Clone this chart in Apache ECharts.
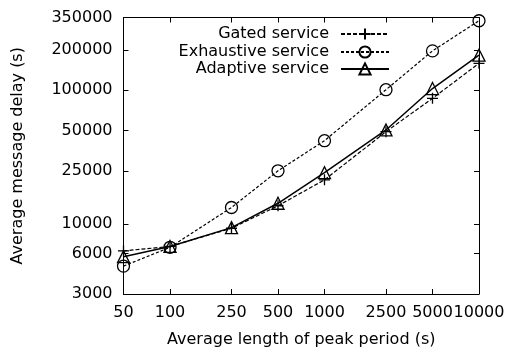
<!DOCTYPE html>
<html>
<head>
<meta charset="utf-8">
<script src="https://cdn.jsdelivr.net/npm/echarts@6/dist/echarts.min.js"></script>
<style>html,body{margin:0;padding:0;background:#fff;}#c{width:509px;height:354px;}</style>
</head>
<body>
<div id="c"></div>
<script>
const xValues = [50, 100, 250, 500, 1000, 2500, 5000, 10000];
const xTicks = [50, 100, 250, 500, 1000, 2500, 5000, 10000];
const yTicks = [3000, 6000, 10000, 25000, 50000, 100000, 200000, 350000];
const gated = [6300, 6800, 9300, 13700, 21400, 49000, 87000, 159000];
const exhaustive = [4850, 6700, 13300, 25000, 42000, 101000, 197000, 331000];
const adaptive = [5700, 6800, 9400, 14300, 24200, 50500, 103000, 183000];
const names = ['Gated service', 'Exhaustive service', 'Adaptive service'];

const FONT = 'DejaVu Sans';
const FS = 16;
const pair = arr => xValues.map((x, i) => [x, arr[i]]);
const plusPath = 'path://M0,-10L0,10M-10,0L10,0';
const triPath = 'path://M0,-10L10,7L-10,7Z';

function xAxisCfg(pos, show) {
  return {
    type: 'log', position: pos, min: 50, max: 10000, logBase: 10,
    axisLine: {show: true, onZero: false, lineStyle: {color: '#000', width: 1}},
    axisTick: {show: true, inside: true, length: 5, customValues: xTicks, lineStyle: {color: '#000'}},
    minorTick: {show: false},
    splitLine: {show: false},
    axisLabel: {show: show, customValues: xTicks, margin: 11, color: '#000', fontFamily: FONT, fontSize: FS, hideOverlap: false, formatter: v => String(v)},
    name: show ? 'Average length of peak period (s)' : '',
    nameLocation: 'middle', nameGap: 38,
    nameTextStyle: {color: '#000', fontFamily: FONT, fontSize: FS}
  };
}
function yAxisCfg(pos, show) {
  return {
    type: 'log', position: pos, min: 3000, max: 350000, logBase: 10,
    axisLine: {show: true, onZero: false, lineStyle: {color: '#000', width: 1}},
    axisTick: {show: true, inside: true, length: 5, customValues: yTicks, lineStyle: {color: '#000'}},
    minorTick: {show: false},
    splitLine: {show: false},
    axisLabel: {show: show, customValues: yTicks, margin: 11, color: '#000', fontFamily: FONT, fontSize: FS, formatter: v => String(v)},
    name: show ? 'Average message delay (s)' : '',
    nameLocation: 'middle', nameGap: 98, nameRotate: 90,
    nameTextStyle: {color: '#000', fontFamily: FONT, fontSize: FS}
  };
}
function legendCfg(name, top) {
  return {
    data: [name], right: 114, top: top, orient: 'vertical', align: 'right',
    itemWidth: 48, itemHeight: 14, padding: 5,
    textStyle: {color: '#000', fontFamily: FONT, fontSize: FS, padding: [0, 7, 0, 0]},
    inactiveColor: '#000'
  };
}
const common = {type: 'line', xAxisIndex: 0, yAxisIndex: 0, symbolSize: 11, animation: false, z: 3};
const chart = echarts.init(document.getElementById('c'), null, {renderer: 'canvas'});
chart.setOption({
  backgroundColor: '#fff',
  animation: false,
  grid: {left: 123.5, right: 30, top: 17.5, bottom: 60, containLabel: false},
  xAxis: [xAxisCfg('bottom', true), xAxisCfg('top', false)],
  yAxis: [yAxisCfg('left', true), yAxisCfg('right', false)],
  legend: [legendCfg(names[0], 21), legendCfg(names[1], 39), legendCfg(names[2], 56)],
  series: [
    Object.assign({}, common, {
      name: names[0], data: pair(gated), symbol: plusPath, symbolSize: 11,
      lineStyle: {color: '#000', width: 1.2, type: [4, 2]},
      itemStyle: {color: '#000', borderColor: '#000', borderWidth: 1.3}
    }),
    Object.assign({}, common, {
      name: names[1], data: pair(exhaustive), symbol: 'circle', symbolSize: 12,
      lineStyle: {color: '#000', width: 1.2, type: [3, 2]},
      itemStyle: {color: 'rgba(0,0,0,0)', borderColor: '#000', borderWidth: 1.3}
    }),
    Object.assign({}, common, {
      name: names[2], data: pair(adaptive), symbol: triPath, symbolSize: 12,
      lineStyle: {color: '#000', width: 1.5, type: 'solid'},
      itemStyle: {color: 'rgba(0,0,0,0)', borderColor: '#000', borderWidth: 1.3}
    })
  ]
});
</script>
</body>
</html>
